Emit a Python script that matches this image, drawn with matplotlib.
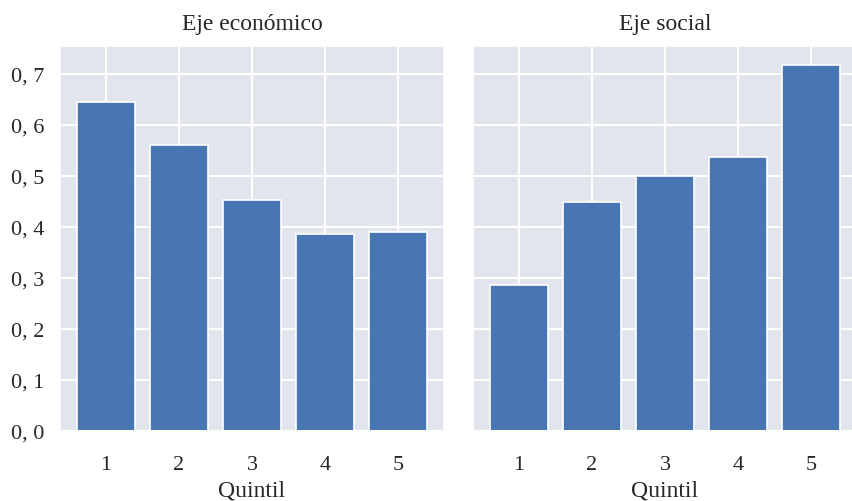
#
# Barras por quintil: eje economico y eje social
#
import matplotlib
matplotlib.use("Agg")
import matplotlib.pyplot as plt
import seaborn as sns

# datos
quintiles = [1, 2, 3, 4, 5]
eje_economico = [0.644, 0.561, 0.453, 0.385, 0.390]
eje_social = [0.285, 0.449, 0.499, 0.536, 0.717]
titulos = ["Eje económico", "Eje social"]
y_ticks = [0.0, 0.1, 0.2, 0.3, 0.4, 0.5, 0.6, 0.7]

sns.set_theme(style="darkgrid")
plt.rcParams["font.family"] = ["Liberation Serif", "DejaVu Serif"]
plt.rcParams["axes.facecolor"] = "#E2E5ED"

fig = plt.figure(figsize=(8.52, 5.02), dpi=100)
ax1 = fig.add_axes([60 / 852, 70 / 502, 384 / 852, 385 / 502])
ax2 = fig.add_axes([473 / 852, 70 / 502, 384 / 852, 385 / 502], sharey=ax1)

for ax, vals, titulo in zip([ax1, ax2], [eje_economico, eje_social], titulos):
    ax.bar(quintiles, vals, width=0.8, color="#4876B2", edgecolor="white", linewidth=1.2)
    ax.set_xlim(0.37, 5.63)
    ax.set_xticks(quintiles)
    ax.set_xticklabels([str(q) for q in quintiles], fontsize=16)
    ax.set_xlabel("Quintil", fontsize=17, labelpad=4)
    ax.set_title(titulo, fontsize=17, pad=12)
    ax.grid(True, color="white", linewidth=1.5)
    ax.tick_params(axis="both", length=0)
    ax.tick_params(axis="x", pad=17)

ax1.set_ylim(0, 0.754)
ax1.set_yticks(y_ticks)
ax1.set_yticklabels([("%.1f" % t).replace(".", ", ") for t in y_ticks], fontsize=16)
ax1.tick_params(axis="y", pad=11)
plt.setp(ax2.get_yticklabels(), visible=False)

fig.savefig("out.png", dpi=100)
